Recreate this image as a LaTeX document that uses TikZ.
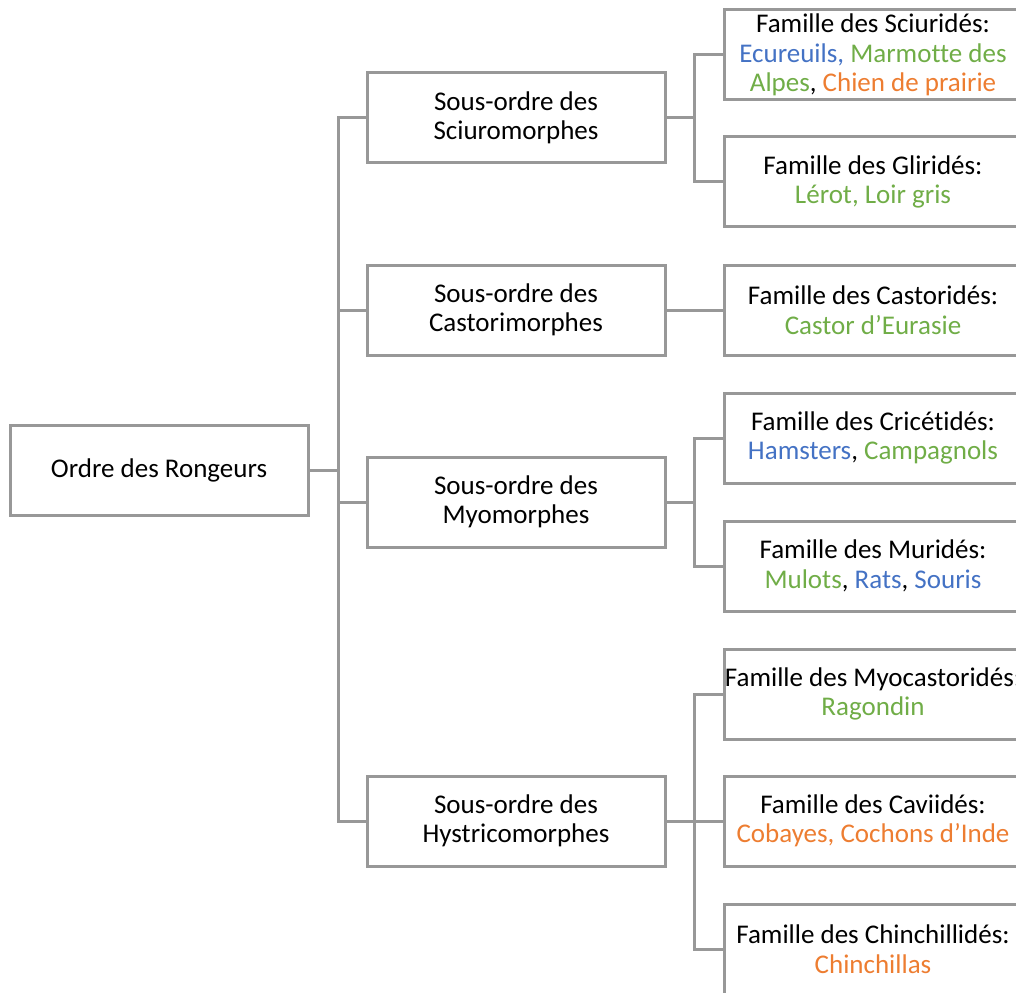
\documentclass[tikz,border=0pt]{standalone}
\usepackage{fontspec}
\setmainfont[Ligatures=NoCommon]{Carlito}
\definecolor{trait}{RGB}{152,152,152}
\definecolor{bleu}{RGB}{68,114,196}
\definecolor{vert}{RGB}{112,173,71}
\definecolor{orange}{RGB}{237,125,49}
\begin{document}
\begin{tikzpicture}[x=1pt, y=-1pt,
    boite/.style={draw=trait, line width=3pt, minimum width=298pt, minimum height=90pt,
        inner sep=0pt, align=center, font=\fontsize{27}{29.5}\selectfont},
    lien/.style={draw=trait, line width=3pt}]
    \useasboundingbox (0,0) rectangle (1016,992);
    % ordre
    \node[boite] (ordre) at (159,470) {Ordre des Rongeurs};
    % sous-ordres
    \node[boite] (sciuro) at (516,118) {Sous-ordre des\\Sciuromorphes};
    \node[boite] (castori) at (516,310) {Sous-ordre des\\Castorimorphes};
    \node[boite] (myo) at (516,502) {Sous-ordre des\\Myomorphes};
    \node[boite] (hystri) at (516,821) {Sous-ordre des\\Hystricomorphes};
    % familles
    \node[boite] (sciurides) at (873,55) {Famille des Sciuridés:\\
        \textcolor{bleu}{Ecureuils,} \textcolor{vert}{Marmotte des}\\
        \textcolor{vert}{Alpes}, \textcolor{orange}{Chien de prairie}};
    \node[boite] (glirides) at (873,182) {Famille des Gliridés:\\\textcolor{vert}{Lérot, Loir gris}};
    \node[boite] (castorides) at (873,310) {Famille des Castoridés:\\\textcolor{vert}{Castor d’Eurasie}};
    \node[boite] (cricetides) at (873,438) {Famille des Cricétidés:\\
        \textcolor{bleu}{Hamsters}, \textcolor{vert}{Campagnols}};
    \node[boite] (murides) at (873,566) {Famille des Muridés:\\
        \textcolor{vert}{Mulots}, \textcolor{bleu}{Rats}, \textcolor{bleu}{Souris}};
    \node[boite] (myocastorides) at (873,694) {Famille des Myocastoridés:\\\textcolor{vert}{Ragondin}};
    \node[boite] (caviides) at (873,821) {Famille des Caviidés:\\\textcolor{orange}{Cobayes, Cochons d’Inde}};
    \node[boite] (chinchillides) at (873,949) {Famille des Chinchillidés:\\\textcolor{orange}{Chinchillas}};
    % embranchements
    \coordinate (b0) at (338,470);
    \coordinate (b1) at (694,118);
    \coordinate (b3) at (694,502);
    \coordinate (b4) at (694,821);
    \draw[lien] (ordre.east) -- (b0);
    \draw[lien] (b0) |- (sciuro.west);
    \draw[lien] (b0) |- (castori.west);
    \draw[lien] (b0) |- (myo.west);
    \draw[lien] (b0) |- (hystri.west);
    \draw[lien] (sciuro.east) -- (b1);
    \draw[lien] (b1) |- (sciurides.west);
    \draw[lien] (b1) |- (glirides.west);
    \draw[lien] (castori.east) -- (castorides.west);
    \draw[lien] (myo.east) -- (b3);
    \draw[lien] (b3) |- (cricetides.west);
    \draw[lien] (b3) |- (murides.west);
    \draw[lien] (hystri.east) -- (b4);
    \draw[lien] (b4) |- (myocastorides.west);
    \draw[lien] (b4) |- (caviides.west);
    \draw[lien] (b4) |- (chinchillides.west);
\end{tikzpicture}
\end{document}
